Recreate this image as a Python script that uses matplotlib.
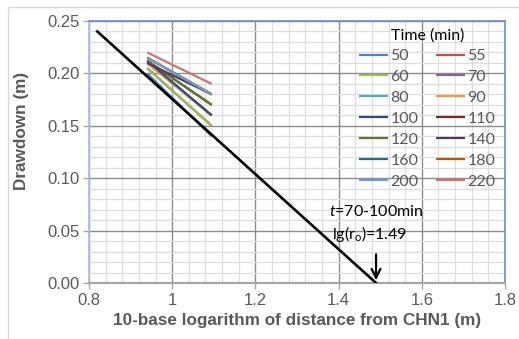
import matplotlib
matplotlib.use("Agg")
import matplotlib.pyplot as plt
from matplotlib.patches import Rectangle
from matplotlib.ticker import MultipleLocator

plt.rcParams['font.family'] = ['Liberation Sans', 'DejaVu Sans']
plt.rcParams['mathtext.fontset'] = 'custom'
plt.rcParams['mathtext.rm'] = 'Lato'
plt.rcParams['mathtext.it'] = 'Lato:italic'

# log10 of distance for the two observation points
x_obs = [0.94, 1.095]

times = ['50', '55', '60', '70', '80', '90', '100', '110', '120', '140', '160', '180', '200', '220']
s_near = [0.200, 0.205, 0.205, 0.210, 0.210, 0.210, 0.212, 0.212, 0.212, 0.210, 0.215, 0.215, 0.215, 0.220]
s_far = [0.140, 0.150, 0.150, 0.160, 0.160, 0.160, 0.160, 0.170, 0.170, 0.180, 0.180, 0.180, 0.180, 0.190]
colors = ['#4F81BD', '#C0504D', '#9BBB59', '#8064A2', '#4BACC6', '#F79646', '#2C4D75',
          '#772C2A', '#5F7530', '#4D3B62', '#276A7C', '#B65708', '#729ACA', '#CD7371']

# fitted straight line
fit_x = [0.82, 1.49]
fit_s = [0.24, 0.0]
r0_log = 1.49

fig = plt.figure(figsize=(5.19, 3.39), dpi=100)
ax = fig.add_axes([89/519, 1-283/339, 416/519, 262/339])

lines = []
for t, a, b, c in zip(times, s_near, s_far, colors):
    ln, = ax.plot(x_obs, [a, b], color=c, lw=1.6, label=t, solid_capstyle='butt')
    lines.append(ln)

ax.plot(fit_x, fit_s, color='black', lw=1.9, zorder=5)

ax.set_xlim(0.8, 1.8)
ax.set_ylim(0, 0.25)
ax.xaxis.set_minor_locator(MultipleLocator(0.04))
ax.yaxis.set_minor_locator(MultipleLocator(0.01))
ax.set_xticks([0.8, 1.0, 1.2, 1.4, 1.6, 1.8], ['0.8', '1', '1.2', '1.4', '1.6', '1.8'])
ax.set_yticks([0, 0.05, 0.10, 0.15, 0.20, 0.25], ['0.00', '0.05', '0.10', '0.15', '0.20', '0.25'])
ax.grid(True, which='major', color='#8C8C8C', lw=1.0, zorder=0)
ax.grid(True, which='minor', color='#DDDDDD', lw=0.9, zorder=0)
ax.set_axisbelow(True)
ax.tick_params(which='major', direction='out', length=4, width=1, color='#A6A6A6',
               labelsize=12, labelcolor='#595959', pad=3)
ax.tick_params(which='minor', length=0)

ax.spines['top'].set_color('#6A8FC8')
ax.spines['right'].set_color('#6A8FC8')
ax.spines['left'].set_color('#A9BEDD')
ax.spines['bottom'].set_color('#A6A6A6')
for sp in ax.spines.values():
    sp.set_linewidth(1.2)
ax.spines['bottom'].set_linewidth(1.6)

ax.set_xlabel('10-base logarithm of distance from CHN1 (m)', fontsize=12.3,
              fontweight='bold', color='#595959', labelpad=4)
ax.set_ylabel('Drawdown (m)', fontsize=12.3, fontweight='bold', color='#595959', labelpad=8)
ax.yaxis.set_label_coords(-0.145, 0.58)

ax.text(1.376, 0.068, r'$\it{t}$=70-100min', fontsize=11.5, family='Lato', va='center')
ax.text(1.385, 0.047, r'lg(r$_\mathrm{o}$)=1.49', fontsize=11.5, family='Lato', va='center')
ax.annotate('', xy=(r0_log, 0.0), xytext=(r0_log, 0.030),
            arrowprops=dict(arrowstyle='->', color='black', lw=1.6, mutation_scale=16))

# legend filled row by row, two columns
order = list(range(0, 14, 2)) + list(range(1, 14, 2))
leg = ax.legend([lines[i] for i in order], [times[i] for i in order],
                ncol=2, loc='upper right', bbox_to_anchor=(1.0, 1.01), frameon=False,
                title='Time (min)', title_fontsize=11.5,
                handlelength=1.8, handletextpad=0.15, columnspacing=1.1,
                labelspacing=0.42, borderaxespad=0.2,
                prop={'family': 'Lato', 'size': 11.5})
leg.get_title().set_family('Lato')
for txt in leg.get_texts():
    txt.set_color('#595959')

fig.patches.append(Rectangle((8/519, -0.1), 1.1, 1.1-7/339, transform=fig.transFigure,
                             fill=False, edgecolor='#D9D9D9', lw=1.0))

fig.savefig('out.png', dpi=100)
